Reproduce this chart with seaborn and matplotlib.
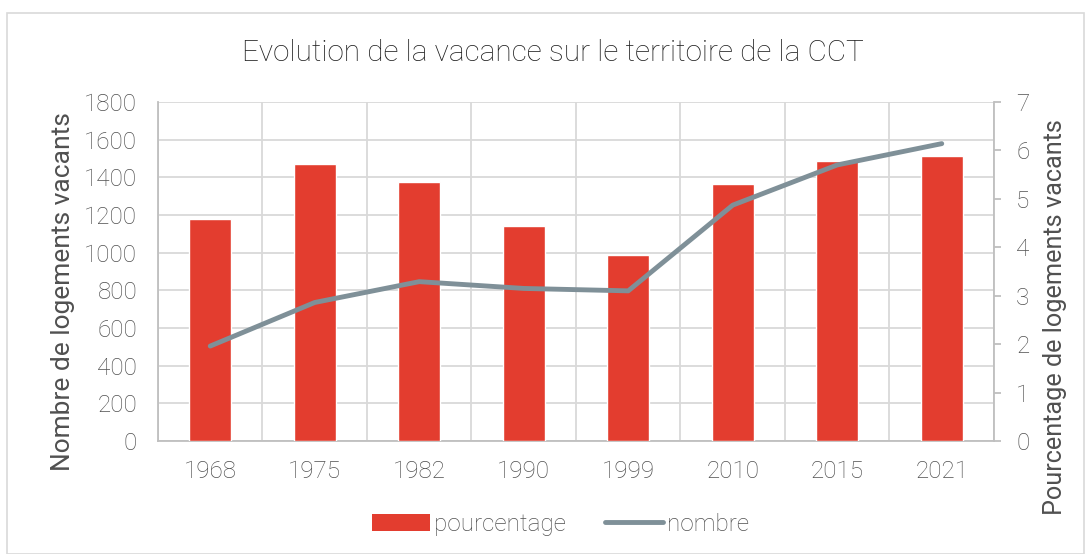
import numpy as np
import pandas as pd
import matplotlib
matplotlib.use("Agg")
import matplotlib.pyplot as plt
from matplotlib.patches import Rectangle, Patch
from matplotlib.lines import Line2D
import seaborn as sns

years = ["1968", "1975", "1982", "1990", "1999", "2010", "2015", "2021"]
bar_values = [1180, 1470, 1375, 1143, 986, 1365, 1485, 1512]
line_values = [1.96, 2.86, 3.29, 3.15, 3.10, 4.87, 5.70, 6.14]

bar_color = "#E33D2F"
line_color = "#7F9098"
grid_color = "#D9D9D9"
text_color = "#505050"

sns.set_theme(style="white")
plt.rcParams['font.family'] = ['Roboto', 'DejaVu Sans']
plt.rcParams['font.weight'] = 'light'

df = pd.DataFrame({"annee": years, "nombre": bar_values, "pct": line_values})
df["pos"] = np.arange(len(years))

fig = plt.figure(figsize=(10.88, 5.54), dpi=100)
fig.patches.append(Rectangle((0.006, 0.0), 0.99, 0.976, transform=fig.transFigure,
                             fill=False, edgecolor=grid_color, linewidth=1.2))
ax = fig.add_axes([0.1452, 0.2040, 0.7684, 0.6119])

sns.barplot(data=df, x="annee", y="nombre", color=bar_color, width=0.4,
            saturation=1, ax=ax, zorder=3)
ax.set_ylim(0, 1800)
ax.set_yticks(range(0, 1801, 200))
ax.set_xlim(-0.5, len(years) - 0.5)
ax.set_xticks(np.arange(-0.5, len(years), 1), minor=True)
ax.grid(True, which="major", axis="y", color=grid_color, linewidth=1.3, zorder=0)
ax.grid(True, which="minor", axis="x", color=grid_color, linewidth=1.3, zorder=0)
ax.grid(False, which="major", axis="x")
ax.set_axisbelow(True)
ax.tick_params(axis="both", which="both", length=0, labelsize=17.5, colors=text_color)
ax.tick_params(axis="y", pad=15)
ax.tick_params(axis="x", pad=14)
ax.set_xlabel("")
ax.set_ylabel("Nombre de logements vacants", fontsize=19, color=text_color)
ax.yaxis.set_label_coords(-0.0993, 0.44)
for s in ["top", "right"]:
    ax.spines[s].set_visible(False)
for s in ["left", "bottom"]:
    ax.spines[s].set_color("#BFBFBF")
    ax.spines[s].set_linewidth(1.3)

ax2 = ax.twinx()
sns.lineplot(data=df, x="pos", y="pct", color=line_color, linewidth=3.5, ax=ax2,
             solid_capstyle="round", zorder=4)
ax2.set_ylim(0, 7)
ax2.set_yticks(range(0, 8))
ax2.set_xlim(-0.5, len(years) - 0.5)
ax2.tick_params(axis="y", length=5, width=1.3, color="#BFBFBF", labelsize=17.5,
                labelcolor=text_color, pad=11)
ax2.set_ylabel("Pourcentage de logements vacants", fontsize=18.2, color=text_color,
               rotation=90)
ax2.yaxis.set_label_coords(1.0586, 0.366)
for s in ["top", "left", "bottom"]:
    ax2.spines[s].set_visible(False)
ax2.spines["right"].set_color("#BFBFBF")
ax2.spines["right"].set_linewidth(1.3)

fig.text(0.508, 0.905, "Evolution de la vacance sur le territoire de la CCT",
         ha="center", va="center", fontsize=21.4, color="#1F1F1F")

handles = [Patch(facecolor=bar_color, edgecolor="none"),
           Line2D([0], [0], color=line_color, linewidth=3.5)]
fig.legend(handles, ["pourcentage", "nombre"], loc="center", bbox_to_anchor=(0.515, 0.054),
           ncol=2, frameon=False, fontsize=17.5, labelcolor=text_color,
           handlelength=2.4, handletextpad=0.15, columnspacing=1.6)

fig.savefig("out.png", dpi=100, facecolor="white")
